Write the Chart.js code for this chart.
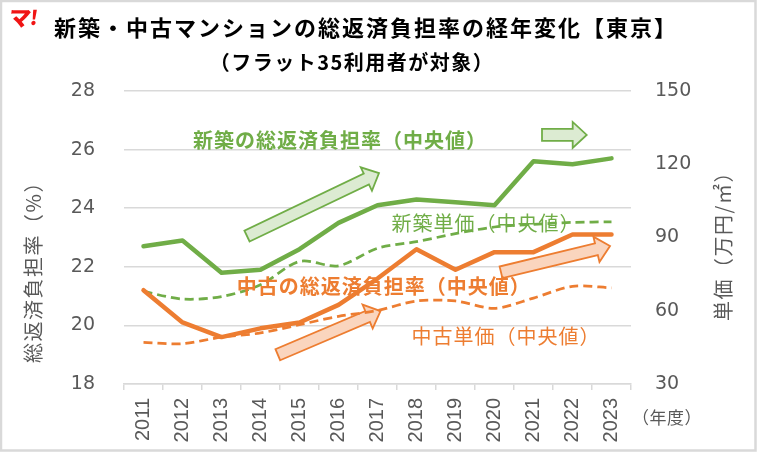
<!DOCTYPE html>
<html><head><meta charset="utf-8">
<script src="https://cdn.jsdelivr.net/npm/chart.js@4/dist/chart.umd.min.js"></script>
<style>html,body{margin:0;padding:0;background:#fff;}canvas{display:block;}</style>
</head><body>
<canvas id="c" width="757" height="452"></canvas>
<script>
// ---- data ----
const years = ['2011','2012','2013','2014','2015','2016','2017','2018','2019','2020','2021','2022','2023'];
const newRatio  = [22.7, 22.9, 21.8, 21.9, 22.6, 23.5, 24.1, 24.3, 24.2, 24.1, 25.6, 25.5, 25.7];
const usedRatio = [21.2, 20.1, 19.6, 19.9, 20.1, 20.7, 21.6, 22.6, 21.9, 22.5, 22.5, 23.1, 23.1];
const newPrice  = [67.9, 64.8, 65.8, 70.6, 80.2, 78.4, 85.6, 88.3, 91.6, 94.3, 95.4, 96.2, 96.4];
const usedPrice = [47.0, 46.5, 49.2, 50.9, 54.3, 57.7, 60.1, 64.0, 64.0, 61.0, 65.2, 70.0, 69.4];
const ratioTicks = [18, 20, 22, 24, 26, 28];
const priceTicks = [30, 60, 90, 120, 150];
const seriesNames = ['新築の総返済負担率（中央値）','中古の総返済負担率（中央値）','新築単価（中央値）','中古単価（中央値）'];

const GREEN = '#70AD47', ORANGE = '#ED7D31', GRID = '#D9D9D9', TXT = '#595959';
const CJK = '"Noto Sans CJK JP", "Noto Sans", sans-serif';

// annotations in data coordinates (category index, left-axis value)
const arrows = [
  {from:[2.654, 23.05], to:[6.038, 25.20], fill:'#DCEBD2', stroke:GREEN},
  {from:[10.218, 26.50], to:[11.364, 26.50], fill:'#DCEBD2', stroke:GREEN},
  {from:[3.444, 19.00], to:[6.077, 20.49], fill:'#FAD5BE', stroke:ORANGE},
  {from:[9.167, 21.81], to:[11.962, 22.71], fill:'#FAD5BE', stroke:ORANGE}
];
const labels = [
  {text:seriesNames[0], at:[1.269, 26.30], color:GREEN, bold:true},
  {text:seriesNames[1], at:[2.390, 21.32], color:ORANGE, bold:true},
  {text:seriesNames[2], at:[6.360, 23.48], color:GREEN, bold:false},
  {text:seriesNames[3], at:[6.874, 19.61], color:ORANGE, bold:false}
];

function drawArrow(ctx, p0, p1, shaftW, headW, headL, fill, stroke){
  const dx = p1[0]-p0[0], dy = p1[1]-p0[1];
  const L = Math.hypot(dx, dy); const ux = dx/L, uy = dy/L; const nx = -uy, ny = ux;
  const bx = p1[0]-ux*headL, by = p1[1]-uy*headL;
  const s = shaftW/2, h = headW/2;
  ctx.beginPath();
  ctx.moveTo(p0[0]+nx*s, p0[1]+ny*s);
  ctx.lineTo(bx+nx*s, by+ny*s);
  ctx.lineTo(bx+nx*h, by+ny*h);
  ctx.lineTo(p1[0], p1[1]);
  ctx.lineTo(bx-nx*h, by-ny*h);
  ctx.lineTo(bx-nx*s, by-ny*s);
  ctx.lineTo(p0[0]-nx*s, p0[1]-ny*s);
  ctx.closePath();
  ctx.fillStyle = fill; ctx.fill();
  ctx.lineWidth = 1.8; ctx.strokeStyle = stroke; ctx.lineJoin = 'miter'; ctx.stroke();
}

const deco = {
  id:'deco',
  beforeDraw(chart){
    const ctx = chart.ctx;
    ctx.save();
    ctx.fillStyle = '#fff'; ctx.fillRect(0,0,chart.width,chart.height);
    ctx.strokeStyle = GRID; ctx.lineWidth = 2.5; ctx.strokeRect(1,1,chart.width-2.5,chart.height-2.5);
    // logo
    ctx.fillStyle = '#F01414'; ctx.font = '900 22px ' + CJK; ctx.textBaseline = 'middle'; ctx.textAlign = 'left';
    ctx.save(); ctx.translate(9, 18); ctx.transform(1, 0, -0.12, 1, 0, 0);
    ctx.fillText('マ', 0, 0);
    ctx.font = '900 20px ' + CJK; ctx.fillText('!', 21, -1);
    ctx.restore();
    // title
    ctx.fillStyle = '#000'; ctx.textAlign = 'center';
    ctx.letterSpacing = '2px';
    ctx.font = 'bold 22px ' + CJK; ctx.fillText('新築・中古マンションの総返済負担率の経年変化【東京】', 366, 28);
    ctx.letterSpacing = '1.5px';
    ctx.font = 'bold 20px ' + CJK; ctx.fillText('（フラット35利用者が対象）', 352, 62);
    // axis titles
    ctx.fillStyle = TXT; ctx.font = '20px ' + CJK; ctx.letterSpacing = '1.5px';
    ctx.save(); ctx.translate(33, 267); ctx.rotate(-Math.PI/2); ctx.fillText('総返済負担率（%）', 0, 0); ctx.restore();
    ctx.save(); ctx.translate(723, 241); ctx.rotate(-Math.PI/2); ctx.fillText('単価（万円/㎡）', 0, 0); ctx.restore();
    ctx.letterSpacing = '0.5px';
    ctx.font = '17px ' + CJK; ctx.fillText('（年度）', 667, 418);
    ctx.restore();
  },
  beforeDatasetsDraw(chart){
    const ctx = chart.ctx, xs = chart.scales.x, ys = chart.scales.y;
    ctx.save();
    arrows.forEach(a => {
      const p0 = [xs.getPixelForValue(a.from[0]), ys.getPixelForValue(a.from[1])];
      const p1 = [xs.getPixelForValue(a.to[0]), ys.getPixelForValue(a.to[1])];
      drawArrow(ctx, p0, p1, 12, 26, 14, a.fill, a.stroke);
    });
    ctx.restore();
  },
  afterDatasetsDraw(chart){
    const ctx = chart.ctx, xs = chart.scales.x, ys = chart.scales.y;
    ctx.save();
    ctx.textAlign = 'left'; ctx.textBaseline = 'middle'; ctx.letterSpacing = '1px';
    labels.forEach(l => {
      ctx.font = (l.bold ? 'bold ' : '') + '20px ' + CJK;
      ctx.fillStyle = l.color;
      ctx.fillText(l.text, xs.getPixelForValue(l.at[0]), ys.getPixelForValue(l.at[1]));
    });
    ctx.restore();
  }
};

const tickFont = {family:'"DejaVu Sans"', size:19};
new Chart(document.getElementById('c'), {
  type:'line',
  data:{
    labels: years,
    datasets:[
      {label:seriesNames[0], data:newRatio, yAxisID:'y', borderColor:GREEN, borderWidth:4.5, pointRadius:0, tension:0, borderJoinStyle:'round', borderCapStyle:'round', order:1},
      {label:seriesNames[1], data:usedRatio, yAxisID:'y', borderColor:ORANGE, borderWidth:4.5, pointRadius:0, tension:0, borderJoinStyle:'round', borderCapStyle:'round', order:2},
      {label:seriesNames[2], data:newPrice, yAxisID:'y1', borderColor:GREEN, borderWidth:2.75, borderDash:[9,5], pointRadius:0, tension:0.3, order:3},
      {label:seriesNames[3], data:usedPrice, yAxisID:'y1', borderColor:ORANGE, borderWidth:2.75, borderDash:[9,5], pointRadius:0, tension:0.3, order:4}
    ]
  },
  options:{
    responsive:false, animation:false, devicePixelRatio:1,
    layout:{padding:{top:91, left:0, right:0, bottom:0}},
    plugins:{legend:{display:false}, tooltip:{enabled:false}, title:{display:false}},
    scales:{
      x:{
        offset:true,
        grid:{offset:true, drawOnChartArea:false, drawTicks:true, tickLength:6, color:GRID, lineWidth:1.5},
        border:{display:true, color:GRID, width:1.5},
        ticks:{minRotation:90, maxRotation:90, autoSkip:false, padding:8, color:TXT, font:{family:'"Liberation Sans"', size:20}},
        afterFit(s){ s.height = 68; }
      },
      y:{
        position:'left', min:ratioTicks[0], max:ratioTicks[ratioTicks.length-1],
        ticks:{stepSize:ratioTicks[1]-ratioTicks[0], padding:29, color:TXT, font:tickFont},
        grid:{color:GRID, lineWidth:1.5, drawTicks:false},
        border:{display:false},
        afterFit(s){ s.width = 124; }
      },
      y1:{
        position:'right', min:priceTicks[0], max:priceTicks[priceTicks.length-1],
        ticks:{stepSize:priceTicks[1]-priceTicks[0], padding:24, color:TXT, font:tickFont},
        grid:{drawOnChartArea:false, drawTicks:false},
        border:{display:false},
        afterFit(s){ s.width = 126; }
      }
    }
  },
  plugins:[deco]
});
</script>
</body></html>
